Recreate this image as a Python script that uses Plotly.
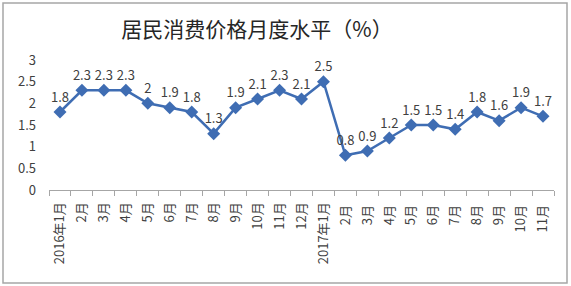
import plotly.graph_objects as go

categories = ["2016年1月", "2月", "3月", "4月", "5月", "6月", "7月", "8月", "9月", "10月", "11月", "12月",
              "2017年1月", "2月 ", "3月 ", "4月 ", "5月 ", "6月 ", "7月 ", "8月 ", "9月 ", "10月 ", "11月 "]
values = [1.8, 2.3, 2.3, 2.3, 2, 1.9, 1.8, 1.3, 1.9, 2.1, 2.3, 2.1,
          2.5, 0.8, 0.9, 1.2, 1.5, 1.5, 1.4, 1.8, 1.6, 1.9, 1.7]
y_ticks = [0, 0.5, 1, 1.5, 2, 2.5, 3]
y_tick_text = ["0", "0.5", "1", "1.5", "2", "2.5", "3"]
title_text = "居民消费价格月度水平（%）"

FONT = "Noto Sans CJK SC"
LINE = "#3F6DB3"

fig = go.Figure()
fig.add_trace(go.Scatter(
    x=categories, y=values, mode="lines+markers+text",
    text=[f"{v:g}" for v in values], textposition="top center",
    textfont=dict(family=FONT, size=13, color="#404040"),
    line=dict(color=LINE, width=2.5),
    marker=dict(symbol="diamond", size=10, color=LINE),
    cliponaxis=False, showlegend=False,
))

L, R, T, B = 49, 17, 60, 96
W, H = 571, 286
pw = W - L - R
ph = H - T - B

def px_x(p):
    return (p - L) / pw

def px_y(p):
    return (H - B - p) / ph

fig.add_shape(type="rect", xref="paper", yref="paper",
              x0=px_x(3), x1=px_x(567), y0=px_y(283), y1=px_y(3),
              line=dict(color="#A6A6A6", width=1.5), fillcolor="rgba(0,0,0,0)", layer="below")

fig.update_layout(
    width=W, height=H,
    margin=dict(l=L, r=R, t=T, b=B),
    paper_bgcolor="white", plot_bgcolor="white",
    title=dict(text=title_text, x=257 / W, xref="container", xanchor="center",
               y=1 - 30 / H, yref="container", yanchor="middle",
               font=dict(family=FONT, size=21, color="#262626")),
    xaxis=dict(type="category", tickangle=-90, tickson="boundaries", ticks="outside",
               ticklen=5, tickcolor="#A6A6A6", showline=True, linecolor="#A6A6A6",
               linewidth=1, showgrid=False, range=[-0.5, len(categories) - 0.5],
               ticklabelstandoff=6,
               tickfont=dict(family=FONT, size=13, color="#404040")),
    yaxis=dict(range=[0, 3], tickvals=y_ticks, ticktext=y_tick_text, showgrid=False,
               showline=False, zeroline=False, ticks="", ticklabelstandoff=12,
               tickfont=dict(family=FONT, size=13, color="#404040")),
)

fig.write_html("out.html")
